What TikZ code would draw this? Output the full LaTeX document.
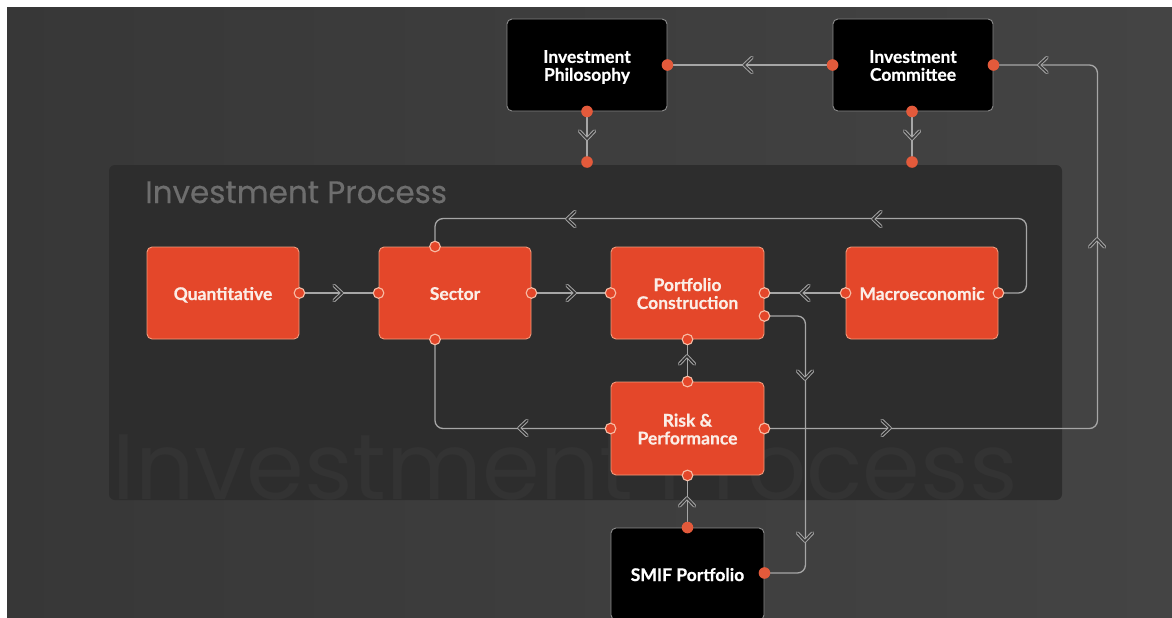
\documentclass[tikz,border=0pt]{standalone}
\usepackage{fontspec}
\setmainfont{Poppins}
\newfontfamily\boxfont[BoldFeatures={FakeBold=0.6}]{Lato}
\newfontfamily\titlefont[FakeBold=0.4]{Poppins}
\usetikzlibrary{calc}
\definecolor{bgdark}{HTML}{3A3A3A}
\definecolor{bgdark2}{HTML}{444444}
\definecolor{panelbg}{HTML}{2D2D2D}
\definecolor{wmark}{HTML}{333333}
\definecolor{titlegray}{HTML}{6E6E6E}
\definecolor{orangebox}{HTML}{E4472A}
\definecolor{orangeedge}{HTML}{F09A7C}
\definecolor{portfill}{HTML}{E35A3B}
\definecolor{portedge}{HTML}{F7BDA6}
\definecolor{linegray}{HTML}{A6A6A6}
\definecolor{boxedge}{HTML}{8C8C8C}
\definecolor{cream}{HTML}{FBEDE6}
\newcommand\boxlines[1]{\raisebox{-3pt}[\height][\depth]{\begin{tabular}{@{}c@{}}#1\end{tabular}}}
\tikzset{
  x=1pt, y=-1pt,
  boxtext/.style={font=\boxfont\bfseries\fontsize{17.5}{16.5}\selectfont, align=center},
  blackbox/.style={boxtext, fill=black, draw=boxedge, line width=0.9pt, rounded corners=5pt,
    minimum width=160pt, minimum height=92pt, inner sep=0pt, text=white},
  orangebox/.style={boxtext, fill=orangebox, draw=orangeedge, line width=0.9pt, rounded corners=5pt,
    minimum width=152pt, minimum height=92pt, inner sep=0pt, text=cream},
  conn/.style={draw=linegray, line width=1.3pt, rounded corners=8pt},
  portdark/.style={fill=portfill, draw=none},
  portlight/.style={fill=orangebox, draw=portedge, line width=1.1pt},
  chev/.pic={\draw[draw=linegray, line width=1pt, double distance=1.5pt, line cap=round, line join=round, pic actions]
     (-4,-7.5) -- (4,0) -- (-4,7.5);},
  inpanel/.style={double=panelbg},
  outpanel/.style={double=bgdark},
}
\begin{document}
\begin{tikzpicture}
\useasboundingbox (0,0) rectangle (1172,618);
\fill[white] (0,0) rectangle (1172,618);
\shade[left color=bgdark!95!black, right color=bgdark2] (7,8) rectangle (1172,618);
% panel
\fill[panelbg, rounded corners=6pt] (109,165) rectangle (1062,500);
\begin{scope}
\clip[rounded corners=6pt] (109,165) rectangle (1062,500);
\node[anchor=base west, inner sep=0pt, text=wmark, font=\fontsize{93}{93}\selectfont] (wm) at (112,499) {Investment Process};
\end{scope}
\node[anchor=base west, inner sep=0pt, text=titlegray, font=\titlefont\fontsize{31}{31}\selectfont] (title) at (145,203) {Investment Process};

% nodes
\node[blackbox] (phil) at (587,65) {\boxlines{Investment\\Philosophy}};
\node[blackbox] (comm) at (913,65) {\boxlines{Investment\\Committee}};
\node[orangebox] (quant) at (223,293) {\boxlines{Quantitative}};
\node[orangebox] (sector) at (455,293) {\boxlines{Sector}};
\node[orangebox, minimum width=153pt] (pc) at (687.5,293) {\boxlines{Portfolio\\Construction}};
\node[orangebox] (macro) at (922,293) {\boxlines{Macroeconomic}};
\node[orangebox, minimum width=153pt, minimum height=93pt] (risk) at (687.5,428.5) {\boxlines{Risk \&\\Performance}};
\node[blackbox, minimum width=153pt, minimum height=92pt] (smif) at (687.5,574) {\boxlines{SMIF Portfolio}};

% ports
\coordinate (philE) at (phil.east);
\coordinate (philS) at (phil.south);
\coordinate (commW) at (comm.west);
\coordinate (commE) at (comm.east);
\coordinate (commS) at ([xshift=-1pt]comm.south);
\coordinate (quantE) at (quant.east);
\coordinate (sectorW) at (sector.west);
\coordinate (sectorE) at (sector.east);
\coordinate (sectorT) at ([xshift=-20pt]sector.north);
\coordinate (sectorB) at ([xshift=-20pt]sector.south);
\coordinate (pcW) at (pc.west);
\coordinate (pcE) at (pc.east);
\coordinate (pcE2) at ([yshift=-23pt]pc.east);
\coordinate (pcS) at (pc.south);
\coordinate (macroW) at (macro.west);
\coordinate (macroE) at (macro.east);
\coordinate (riskN) at (risk.north);
\coordinate (riskW) at (risk.west);
\coordinate (riskE) at (risk.east);
\coordinate (riskS) at (risk.south);
\coordinate (smifN) at (smif.north);
\coordinate (smifE) at ([yshift=1pt]smif.east);
\coordinate (philEnd) at (587,162);
\coordinate (commEnd) at (912,162);

% connectors
\draw[conn] (commW) -- (philE);
\draw[conn] (philS) -- (philEnd);
\draw[conn] (commS) -- (commEnd);
\draw[conn] (riskE) -- ++(333,0) |- (commE);
\draw[conn] (quantE) -- (sectorW);
\draw[conn] (sectorE) -- (pcW);
\draw[conn] (macroW) -- (pcE);
\draw[conn] (macroE) -- ++(28,0) |- ([yshift=28pt]sectorT) -- (sectorT);
\draw[conn] (pcE2) -- ++(41,0) |- (smifE);
\draw[conn] (riskN) -- (pcS);
\draw[conn] (smifN) -- (riskS);
\draw[conn] (riskW) -| (sectorB);

% chevrons
\pic[rotate=180, outpanel] at (748,65) {chev};
\pic[rotate=180, outpanel] at (1043,65) {chev};
\pic[rotate=-90, outpanel] at (587,135) {chev};
\pic[rotate=-90, outpanel] at (912,135) {chev};
\pic[inpanel] at (338,293) {chev};
\pic[inpanel] at (571,293) {chev};
\pic[rotate=180, inpanel] at (805,293) {chev};
\pic[rotate=180, inpanel] at (877,219) {chev};
\pic[rotate=180, inpanel] at (571,219) {chev};
\pic[rotate=90, outpanel] at (1097,243) {chev};
\pic[inpanel] at (886,428) {chev};
\pic[rotate=180, inpanel] at (523,428) {chev};
\pic[rotate=-90, inpanel] at (805,375) {chev};
\pic[rotate=-90, outpanel] at (805,537) {chev};
\pic[rotate=90, inpanel] at (687,360) {chev};
\pic[rotate=90, outpanel] at (687,502) {chev};

% port dots
\foreach \p in {philE, philS, commW, commE, commS, philEnd, commEnd, smifN, smifE}
  \fill[portdark] (\p) circle (5.8pt);
\foreach \p in {quantE, sectorW, sectorE, sectorT, sectorB, pcW, pcE, pcE2, pcS, macroW, macroE, riskN, riskW, riskE, riskS}
  \draw[portlight] (\p) circle (5.3pt);
\end{tikzpicture}
\end{document}
